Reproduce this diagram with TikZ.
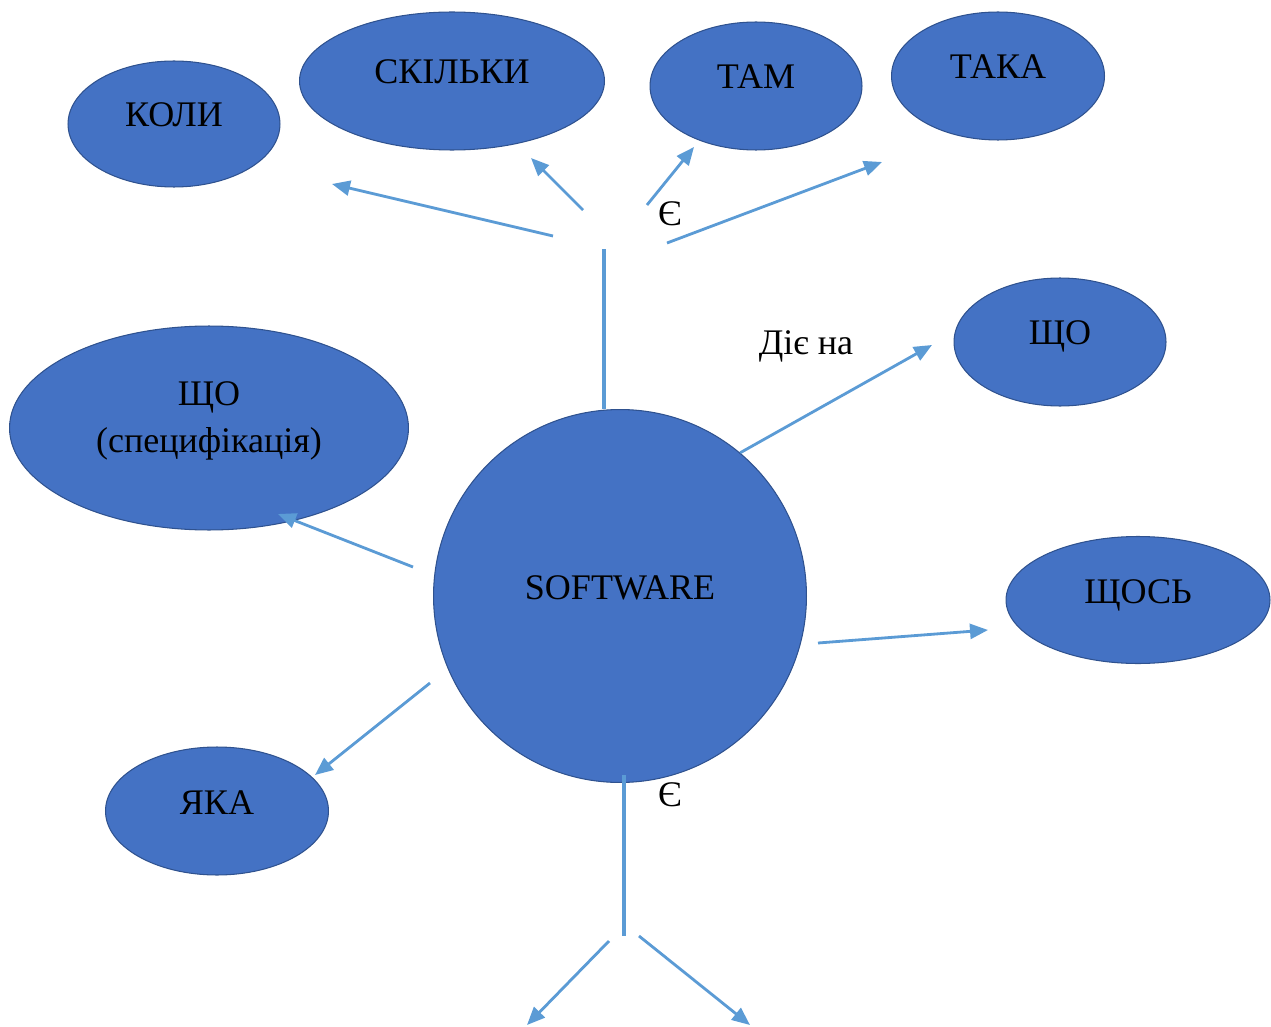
\documentclass[tikz,border=0pt]{standalone}
\usepackage{fontspec}
\setmainfont{Liberation Serif}
\usetikzlibrary{shapes.geometric,arrows.meta,positioning}
\definecolor{bubblefill}{HTML}{4472C4}
\definecolor{bubbleline}{HTML}{2F528F}
\definecolor{linkblue}{HTML}{5B9BD5}
\tikzset{
  bubble/.style={ellipse, fill=bubblefill, draw=bubbleline, line width=0.6pt, inner sep=0pt,
    text height=0.56cm, text depth=0.44cm, font=\fontsize{20.5}{26.5}\selectfont},
  link/.style={draw=linkblue, line width=1.6pt, -{Triangle[length=0.36cm,width=0.3cm]}},
  stem/.style={draw=linkblue, line width=2.8pt},
  tag/.style={font=\fontsize{20.5}{24}\selectfont}
}

\begin{document}
\begin{tikzpicture}[x=0.02cm,y=-0.02cm]
	\useasboundingbox (0,0) rectangle (1271,1027);
	% bubbles
	\node[bubble, circle, minimum size=7.46cm] (sw) at (620,596) {SOFTWARE};
	\node[bubble, minimum width=4.24cm, minimum height=2.52cm] (koli) at (174,124) {КОЛИ};
	\node[bubble, minimum width=6.1cm, minimum height=2.76cm] (skilky) at (452,81) {СКІЛЬКИ};
	\node[bubble, minimum width=4.24cm, minimum height=2.56cm] (tam) at (756,86) {ТАМ};
	\node[bubble, minimum width=4.26cm, minimum height=2.56cm] (taka) at (998,76) {ТАКА};
	\node[bubble, minimum width=4.24cm, minimum height=2.56cm] (scho) at (1060,342) {ЩО};
	\node[bubble, align=center, text height=1.66cm, text depth=0.68cm, minimum width=7.98cm, minimum height=4.08cm] (spec) at (209,428) {ЩО\\(специфікація)};
	\node[bubble, minimum width=5.28cm, minimum height=2.54cm] (shchos) at (1138,600) {ЩОСЬ};
	\node[bubble, minimum width=4.46cm, minimum height=2.56cm] (yaka) at (217,811) {ЯКА};

	% free ends of the links
	\coordinate (fanA) at (553,236);  \coordinate (toKoli) at (332,184);
	\coordinate (fanB) at (583,210);  \coordinate (toSkilky) at (531,158);
	\coordinate (fanC) at (647,205);  \coordinate (toTam) at (694,147);
	\coordinate (fanD) at (667,243);  \coordinate (toTaka) at (882,162);
	\coordinate (stemTop) at (604,249);
	\coordinate (toScho) at (932,345);
	\coordinate (specFrom) at (413,567);  \coordinate (toSpec) at (278,514);
	\coordinate (shchosFrom) at (818,643);  \coordinate (toShchos) at (988,630);
	\coordinate (yakaFrom) at (430,683);  \coordinate (toYaka) at (315,775);
	\coordinate (stemStart) at (624,775);  \coordinate (stemBot) at (624,936);
	\coordinate (forkL) at (609,941);  \coordinate (downL) at (527,1025);
	\coordinate (forkR) at (639,936);  \coordinate (downR) at (750,1025);

	% links
	\draw[stem] (stemTop |- sw.north) -- (stemTop);
	\draw[link] (fanA) -- (toKoli);
	\draw[link] (fanB) -- (toSkilky);
	\draw[link] (fanC) -- (toTam);
	\draw[link] (fanD) -- (toTaka);
	\draw[link] (sw.50) -- (toScho);
	\draw[link] (specFrom) -- (toSpec);
	\draw[link] (shchosFrom) -- (toShchos);
	\draw[link] (yakaFrom) -- (toYaka);
	\draw[stem] (stemStart) -- (stemBot);
	\draw[link] (forkL) -- (downL);
	\draw[link] (forkR) -- (downR);

	% labels
	\node[tag] (isTop) at (670,214) {Є};
	\node[tag] (isBot) at (670,795) {Є};
	\node[tag] (acts) at (806,346) {Діє на};
\end{tikzpicture}
\end{document}
